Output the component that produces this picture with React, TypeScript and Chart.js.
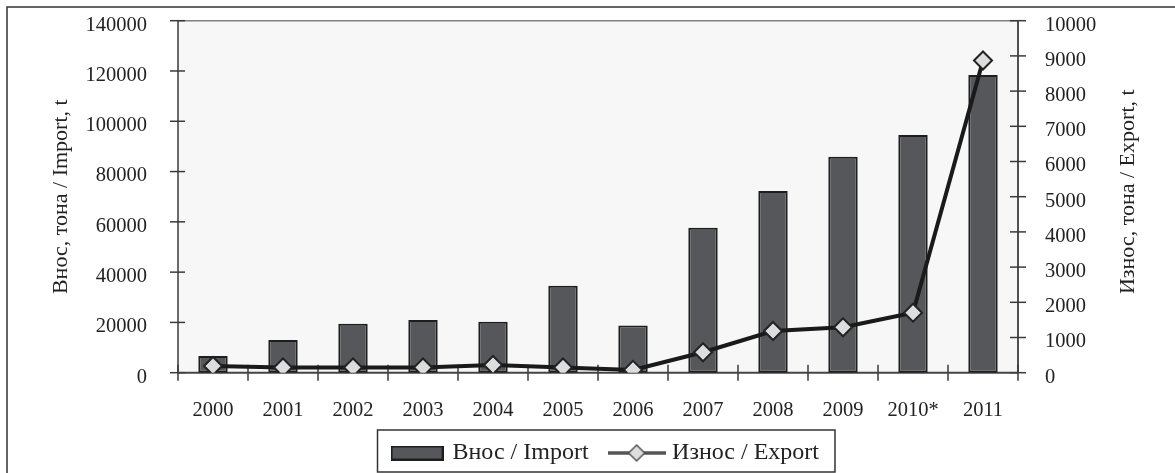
import React, { useEffect, useRef } from "react";
import { Chart, registerables } from "chart.js";

Chart.register(...registerables);

const categories = ["2000", "2001", "2002", "2003", "2004", "2005", "2006", "2007", "2008", "2009", "2010*", "2011"];
const importValues = [6600, 13000, 19500, 21000, 20300, 34600, 18800, 57700, 72300, 85900, 94500, 118400];
const exportValues = [190, 150, 150, 150, 220, 150, 80, 580, 1185, 1290, 1705, 8870];
const importLabel = "Внос / Import";
const exportLabel = "Износ / Export";
const leftTitle = "Внос, тона / Import, t";
const rightTitle = "Износ, тона / Export, t";

const FONT = "'Liberation Serif', 'Times New Roman', serif";
const TEXT = "#222222";
const BAR_FILL = "#55575a";
const BAR_BORDER = "#1e1e1e";
const MARKER_FILL = "#dcdddf";

function makeBarSymbol() {
  const c = document.createElement("canvas");
  c.width = 53;
  c.height = 15;
  const ctx = c.getContext("2d")!;
  ctx.fillStyle = BAR_FILL;
  ctx.fillRect(0, 0, 53, 15);
  ctx.strokeStyle = BAR_BORDER;
  ctx.lineWidth = 2;
  ctx.strokeRect(1, 1, 51, 13);
  return c;
}

function makeLineSymbol() {
  const c = document.createElement("canvas");
  c.width = 58;
  c.height = 20;
  const ctx = c.getContext("2d")!;
  ctx.strokeStyle = "#555555";
  ctx.lineWidth = 3.5;
  ctx.beginPath();
  ctx.moveTo(0, 10);
  ctx.lineTo(58, 10);
  ctx.stroke();
  ctx.beginPath();
  ctx.moveTo(29, 2);
  ctx.lineTo(37, 10);
  ctx.lineTo(29, 18);
  ctx.lineTo(21, 10);
  ctx.closePath();
  ctx.fillStyle = MARKER_FILL;
  ctx.fill();
  ctx.lineWidth = 1.5;
  ctx.strokeStyle = "#555555";
  ctx.stroke();
  return c;
}

const decorPlugin = {
  id: "decor",
  beforeDatasetsDraw(chart: any) {
    const { ctx, chartArea } = chart;
    const { left, right, top, bottom } = chartArea;
    ctx.save();
    ctx.fillStyle = "#f7f7f7";
    ctx.fillRect(left, top, right - left, bottom - top);
    ctx.strokeStyle = "#808080";
    ctx.lineWidth = 1.5;
    ctx.beginPath();
    ctx.moveTo(left, top);
    ctx.lineTo(right, top);
    ctx.stroke();
    ctx.strokeStyle = "#3a3a3a";
    ctx.lineWidth = 1.5;
    ctx.beginPath();
    ctx.moveTo(left, top);
    ctx.lineTo(left, bottom);
    ctx.stroke();
    ctx.strokeStyle = "#505050";
    ctx.lineWidth = 2;
    ctx.beginPath();
    ctx.moveTo(right, top);
    ctx.lineTo(right, bottom);
    ctx.stroke();
    ctx.strokeStyle = "#3a3a3a";
    ctx.lineWidth = 1.5;
    const y = chart.scales.y;
    y.ticks.forEach((t: any) => {
      const py = y.getPixelForValue(t.value);
      ctx.beginPath();
      ctx.moveTo(left - 8, py);
      ctx.lineTo(left + 7, py);
      ctx.stroke();
    });
    const y1 = chart.scales.y1;
    y1.ticks.forEach((t: any) => {
      const py = y1.getPixelForValue(t.value);
      ctx.beginPath();
      ctx.moveTo(right - 8, py);
      ctx.lineTo(right + 8, py);
      ctx.stroke();
    });
    const x = chart.scales.x;
    const n = categories.length;
    const step = (right - left) / n;
    for (let i = 0; i <= n; i++) {
      const px = i < n ? x.getPixelForValue(i) - step / 2 : x.getPixelForValue(n - 1) + step / 2;
      ctx.beginPath();
      ctx.moveTo(px, bottom - 8);
      ctx.lineTo(px, bottom + 8);
      ctx.stroke();
    }
    ctx.strokeStyle = "#444444";
    ctx.lineWidth = 2;
    ctx.beginPath();
    ctx.moveTo(left, bottom);
    ctx.lineTo(right, bottom);
    ctx.stroke();
    ctx.restore();
  },
  afterDraw(chart: any) {
    const { ctx, chartArea } = chart;
    ctx.save();
    ctx.strokeStyle = "#333333";
    ctx.lineWidth = 1.5;
    ctx.beginPath();
    ctx.moveTo(7, 480);
    ctx.lineTo(7, 7);
    ctx.lineTo(1180, 7);
    ctx.stroke();
    ctx.fillStyle = TEXT;
    ctx.font = `22px ${FONT}`;
    ctx.textAlign = "center";
    ctx.textBaseline = "middle";
    ctx.translate(1128, (chartArea.top + chartArea.bottom) / 2 - 5);
    ctx.rotate(-Math.PI / 2);
    ctx.fillText(rightTitle, 0, 0);
    ctx.restore();
    const lg = chart.legend;
    if (lg && lg.legendHitBoxes && lg.legendHitBoxes.length) {
      const hb = lg.legendHitBoxes;
      const first = hb[0];
      const last = hb[hb.length - 1];
      ctx.save();
      ctx.strokeStyle = "#333333";
      ctx.lineWidth = 1.5;
      const l = first.left - 16;
      const r = last.left + last.width + 16;
      const t = first.top - 11;
      const b = first.top + first.height + 7;
      ctx.strokeRect(l, t, r - l, b - t);
      ctx.restore();
    }
  },
};

export default function App() {
  const ref = useRef<HTMLCanvasElement>(null);
  useEffect(() => {
    if (!ref.current) return;
    const barSym = makeBarSymbol();
    const lineSym = makeLineSymbol();
    const chart = new Chart(ref.current, {
      type: "bar",
      data: {
        labels: categories,
        datasets: [
          {
            type: "bar",
            label: importLabel,
            data: importValues,
            yAxisID: "y",
            backgroundColor: BAR_FILL,
            borderColor: BAR_BORDER,
            borderWidth: 2,
            borderSkipped: false,
            categoryPercentage: 1,
            barPercentage: 0.42,
            order: 2,
          },
          {
            type: "line",
            label: exportLabel,
            data: exportValues,
            yAxisID: "y1",
            borderColor: "#1a1a1a",
            borderWidth: 4,
            tension: 0,
            pointStyle: "rectRot",
            pointRadius: 9,
            pointBorderWidth: 2,
            pointBorderColor: "#222222",
            pointBackgroundColor: MARKER_FILL,
            order: 1,
          } as any,
        ],
      },
      options: {
        responsive: false,
        animation: false,
        layout: { padding: { left: 37.5, right: 0, top: 20.7, bottom: 0 } },
        plugins: {
          tooltip: { enabled: false },
          legend: {
            position: "bottom",
            labels: {
              usePointStyle: true,
              pointStyleWidth: 47,
              padding: 24.5,
              color: TEXT,
              font: { family: FONT, size: 24 },
              generateLabels: () => [
                { text: importLabel, pointStyle: barSym as any, fillStyle: BAR_FILL, strokeStyle: BAR_BORDER, lineWidth: 0, datasetIndex: 0, hidden: false, fontColor: TEXT },
                { text: exportLabel, pointStyle: lineSym as any, fillStyle: MARKER_FILL, strokeStyle: "#555", lineWidth: 0, datasetIndex: 1, hidden: false, fontColor: TEXT },
              ],
            },
          },
        },
        scales: {
          x: {
            type: "category",
            offset: true,
            grid: { display: false },
            border: { display: false },
            ticks: {
              color: TEXT,
              font: { family: FONT, size: 20.5 },
              padding: 18,
              autoSkip: false,
              maxRotation: 0,
            },
            afterFit: (s: any) => {
              s.height = 43.8;
              s.paddingLeft = 0;
              s.paddingRight = 0;
            },
          },
          y: {
            position: "left",
            min: 0,
            max: 140000,
            grid: { display: false },
            border: { display: false },
            ticks: {
              stepSize: 20000,
              color: TEXT,
              font: { family: FONT, size: 20.5 },
              padding: 23,
              labelOffset: 4.5,
              callback: (v: any) => String(v),
            },
            title: {
              display: true,
              text: leftTitle,
              color: TEXT,
              font: { family: FONT, size: 22 },
              padding: { top: 11, bottom: 0 },
            },
            afterFit: (s: any) => {
              s.width = 178 - 37.5;
              s.paddingTop = 0;
              s.paddingBottom = 0;
            },
          },
          y1: {
            position: "right",
            min: 0,
            max: 10000,
            grid: { display: false },
            border: { display: false },
            ticks: {
              stepSize: 1000,
              color: TEXT,
              font: { family: FONT, size: 20.5 },
              padding: 19,
              labelOffset: 4.5,
              callback: (v: any) => String(v),
            },
            afterFit: (s: any) => {
              s.width = 1175 - 1018;
              s.paddingTop = 0;
              s.paddingBottom = 0;
            },
          },
        },
      },
      plugins: [decorPlugin],
    } as any);
    return () => chart.destroy();
  }, []);
  return (
    <div style={{ position: "fixed", left: 0, top: 0, width: 1175, height: 473, overflow: "hidden", background: "#ffffff" }}>
      <canvas ref={ref} width={1175} height={475} style={{ display: "block" }} />
    </div>
  );
}
